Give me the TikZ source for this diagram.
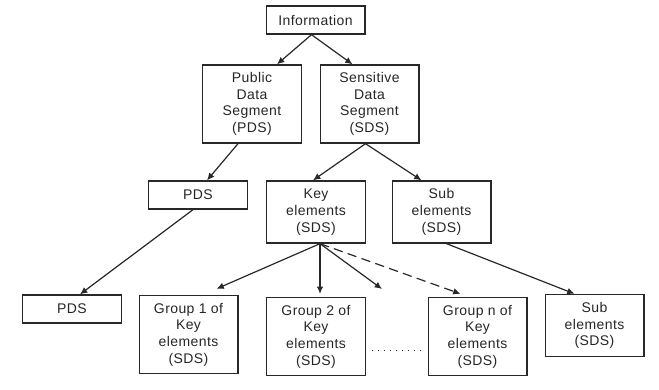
\documentclass[tikz,border=0pt]{standalone}
\usepackage{fontspec}
\setmainfont{Liberation Sans}[LetterSpace=3]
\usepackage{tikz}
\usetikzlibrary{arrows.meta,calc,positioning}
\definecolor{linegray}{RGB}{40,40,40}

\begin{document}
\begin{tikzpicture}
              [x=0.75pt,y=-0.75pt,
                every node/.style={rectangle,draw=linegray,line width=1pt,font=\fontsize{10.5}{12.5}\selectfont,
                  align=center,inner sep=0pt,minimum width=74pt,text=black!85},
                seg/.style={minimum height=58.5pt},
                elem/.style={minimum height=46.5pt},
                single/.style={minimum height=21pt},
                link/.style={draw=linegray,line width=0.9pt,-{Latex[length=5.5pt,width=5pt]}}]
              \useasboundingbox (0,0) rectangle (659,389);
              \node[single] (info) at (315.5,20) {Information};
              \node[seg] (pub) at (252,104) {Public\\Data\\Segment\\(PDS)};
              \node[seg] (sens) at (369.5,104) {Sensitive\\Data\\Segment\\(SDS)};
              \node[single] (pds1) at (198,195) {PDS};
              \node[elem] (key) at (316,212) {Key\\elements\\(SDS)};
              \node[elem] (sub1) at (441.5,212) {Sub\\elements\\(SDS)};
              \node[single] (pds2) at (72,309) {PDS};
              \node[seg] (grp1) at (188.5,334.5) {Group 1 of\\Key\\elements\\(SDS)};
              \node[seg] (grp2) at (316,336.5) {Group 2 of\\Key\\elements\\(SDS)};
              \node[seg] (grpn) at (477.5,336.5) {Group n of\\Key\\elements\\(SDS)};
              \node[elem] (sub2) at (594.5,325.5) {Sub\\elements\\(SDS)};
              \coordinate (more) at (382,289);
              % arrows
              \draw[link] ($(info.south)+(-4,0)$) -- ($(pub.north)+(25,0)$);
              \draw[link] ($(info.south)+(-4,0)$) -- ($(sens.north)+(-17,0)$);
              \draw[link] ($(pub.south)+(-14,0)$) -- ($(pds1.north)+(9,0)$);
              \draw[link] ($(sens.south)+(-4,0)$) -- ($(key.north)+(-3,0)$);
              \draw[link] ($(sens.south)+(-4,0)$) -- ($(sub1.north)+(-20,0)$);
              \draw[link] ($(pds1.south)+(-5,0)$) -- ($(pds2.north)+(8,0)$);
              \draw[link] ($(key.south)+(4,0)$) -- ($(grp1.north)+(28,-6)$);
              \draw[link] ($(key.south)+(4,0)$) -- ($(grp2.north)+(4,-3)$);
              \draw[link] ($(key.south)+(4,0)$) -- (more);
              \draw[link,dash pattern=on 7pt off 4pt] ($(key.south)+(4,0)$) -- ($(grpn.north)+(-17,-3)$);
              \draw[draw=linegray,line width=1pt,dash pattern=on 1pt off 3.5pt] ($(grp2.east)+(6,14)$) -- ($(grpn.west)+(-2,14)$);
              \draw[link] ($(sub1.south)+(5,0)$) -- ($(sub2.north)+(-20,0)$);
            \end{tikzpicture}
\end{document}
